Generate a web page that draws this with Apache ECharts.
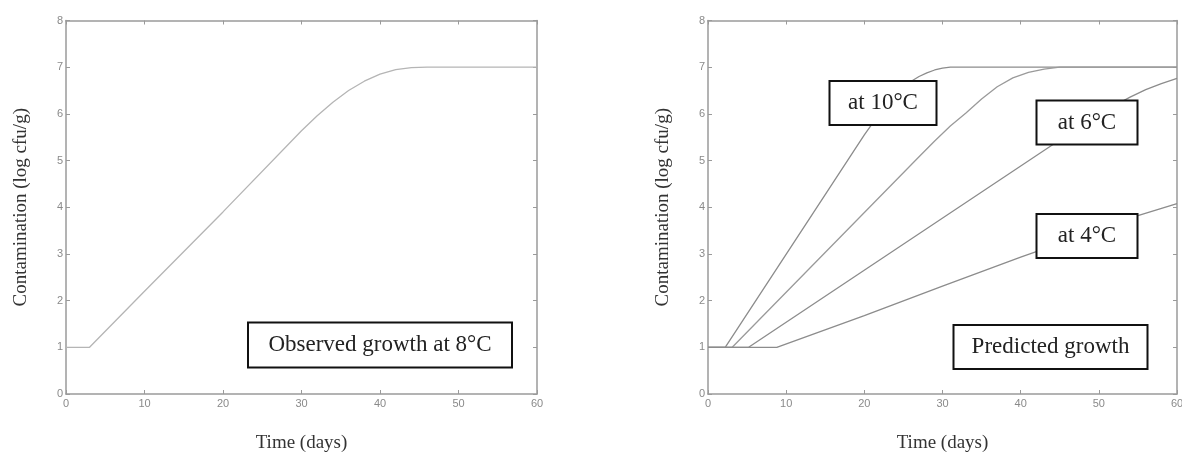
<!DOCTYPE html>
<html>
<head>
<meta charset="utf-8">
<script src="https://cdn.jsdelivr.net/npm/echarts@6/dist/echarts.min.js"></script>
<style>
html,body{margin:0;padding:0;background:#fff;}
#c{width:1182px;height:452px;}
</style>
</head>
<body>
<div id="c"></div>
<script>
// ---- data ----
const xTicks = [0, 10, 20, 30, 40, 50, 60];
const yTicks = [0, 1, 2, 3, 4, 5, 6, 7, 8];

const observedDays   = [0, 3, 10, 20, 30, 32, 34, 36, 38, 40, 42, 44, 46, 60];
const observedValues = [1, 1, 2.2, 3.9, 5.64, 5.96, 6.25, 6.5, 6.7, 6.85, 6.95, 6.99, 7.0, 7.0];

const t10Days   = [0, 2.2, 20, 22, 23, 24, 25, 26, 27, 28, 29, 30, 31, 60];
const t10Values = [1, 1, 5.55, 6.02, 6.22, 6.4, 6.56, 6.7, 6.8, 6.88, 6.94, 6.98, 7.0, 7.0];

const t8Days   = [0, 3.1, 27, 29, 31, 33, 35, 37, 39, 41, 43, 45, 60];
const t8Values = [1, 1, 5.08, 5.42, 5.74, 6.02, 6.32, 6.58, 6.77, 6.89, 6.96, 7.0, 7.0];

const t6Days   = [0, 5.2, 45, 50, 52, 54, 56, 58, 60];
const t6Values = [1, 1, 5.44, 5.98, 6.18, 6.36, 6.52, 6.65, 6.76];

const t4Days   = [0, 8.8, 20, 30, 40, 50, 55, 60];
const t4Values = [1, 1, 1.68, 2.31, 2.93, 3.52, 3.82, 4.08];

const leftLabel  = 'Observed growth at 8°C';
const rightLabels = ['at 10°C', 'at 6°C', 'at 4°C', 'Predicted growth'];
const xTitle = 'Time (days)';
const yTitle = 'Contamination (log cfu/g)';

// ---- build ----
const zip = (xs, ys) => xs.map((x, i) => [x, ys[i]]);
const axisGray = '#9a9a9a';
const serif = '"Liberation Serif", "Times New Roman", serif';

function xAxes(gi) {
  const base = {
    type: 'value', gridIndex: gi, min: 0, max: 60, interval: 10,
    axisLine: { show: true, onZero: false, lineStyle: { color: axisGray, width: 1.5 } },
    axisTick: { show: true, inside: true, length: 4, lineStyle: { color: axisGray } },
    splitLine: { show: false }
  };
  return [
    Object.assign({}, base, {
      position: 'bottom',
      name: xTitle, nameLocation: 'middle', nameGap: 40,
      nameTextStyle: { fontFamily: serif, fontSize: 19, color: '#333' },
      axisLabel: { show: true, color: '#8a8a8a', fontSize: 11, margin: 4, fontFamily: 'Liberation Sans, Arial, sans-serif',
        formatter: v => xTicks.indexOf(v) >= 0 ? String(v) : '' }
    }),
    Object.assign({}, base, { position: 'top', axisLabel: { show: false } })
  ];
}
function yAxes(gi) {
  const base = {
    type: 'value', gridIndex: gi, min: 0, max: 8, interval: 1,
    axisLine: { show: true, onZero: false, lineStyle: { color: axisGray, width: 1.5 } },
    axisTick: { show: true, inside: true, length: 4, lineStyle: { color: axisGray } },
    splitLine: { show: false }
  };
  return [
    Object.assign({}, base, {
      position: 'left',
      name: yTitle, nameLocation: 'middle', nameGap: 35, nameRotate: 90,
      nameTextStyle: { fontFamily: serif, fontSize: 19, color: '#333' },
      axisLabel: { show: true, color: '#8a8a8a', fontSize: 11, margin: 3, fontFamily: 'Liberation Sans, Arial, sans-serif',
        formatter: v => yTicks.indexOf(v) >= 0 ? String(v) : '' }
    }),
    Object.assign({}, base, { position: 'right', axisLabel: { show: false } })
  ];
}

function lineSeries(data, xi, yi, color) {
  return {
    type: 'line', data: data, xAxisIndex: xi, yAxisIndex: yi,
    showSymbol: false, symbol: 'none', smooth: false, animation: false,
    lineStyle: { color: color, width: 1.3 }, z: 2
  };
}

function box(cx, cy, w, h, text) {
  return {
    type: 'group', z: 100,
    children: [
      { type: 'rect', shape: { x: cx - w / 2, y: cy - h / 2, width: w, height: h },
        style: { fill: '#fff', stroke: '#111', lineWidth: 2 }, z: 100 },
      { type: 'text', x: cx, y: cy, z: 101,
        style: { text: text, fill: '#222', font: '23px ' + serif, align: 'center', verticalAlign: 'middle' } }
    ]
  };
}

const chart = echarts.init(document.getElementById('c'), null, { renderer: 'canvas' });
chart.setOption({
  animation: false,
  backgroundColor: '#fff',
  grid: [
    { left: 66, top: 20.5, width: 471, height: 373.5, containLabel: false, outerBoundsMode: 'none' },
    { left: 708, top: 20.5, width: 469, height: 373.5, containLabel: false, outerBoundsMode: 'none' }
  ],
  xAxis: xAxes(0).concat(xAxes(1)),
  yAxis: yAxes(0).concat(yAxes(1)),
  series: [
    lineSeries(zip(observedDays, observedValues), 0, 0, '#b5b5b5'),
    lineSeries(zip(t10Days, t10Values), 2, 2, '#8c8c8c'),
    lineSeries(zip(t8Days, t8Values), 2, 2, '#9a9a9a'),
    lineSeries(zip(t6Days, t6Values), 2, 2, '#8c8c8c'),
    lineSeries(zip(t4Days, t4Values), 2, 2, '#8c8c8c')
  ],
  graphic: [
    box(380, 345, 264, 45, leftLabel),
    box(883, 103, 107, 44, rightLabels[0]),
    box(1087, 122.5, 101, 44, rightLabels[1]),
    box(1087, 236, 101, 44, rightLabels[2]),
    box(1050.5, 347, 194, 44, rightLabels[3])
  ]
});
</script>
</body>
</html>
